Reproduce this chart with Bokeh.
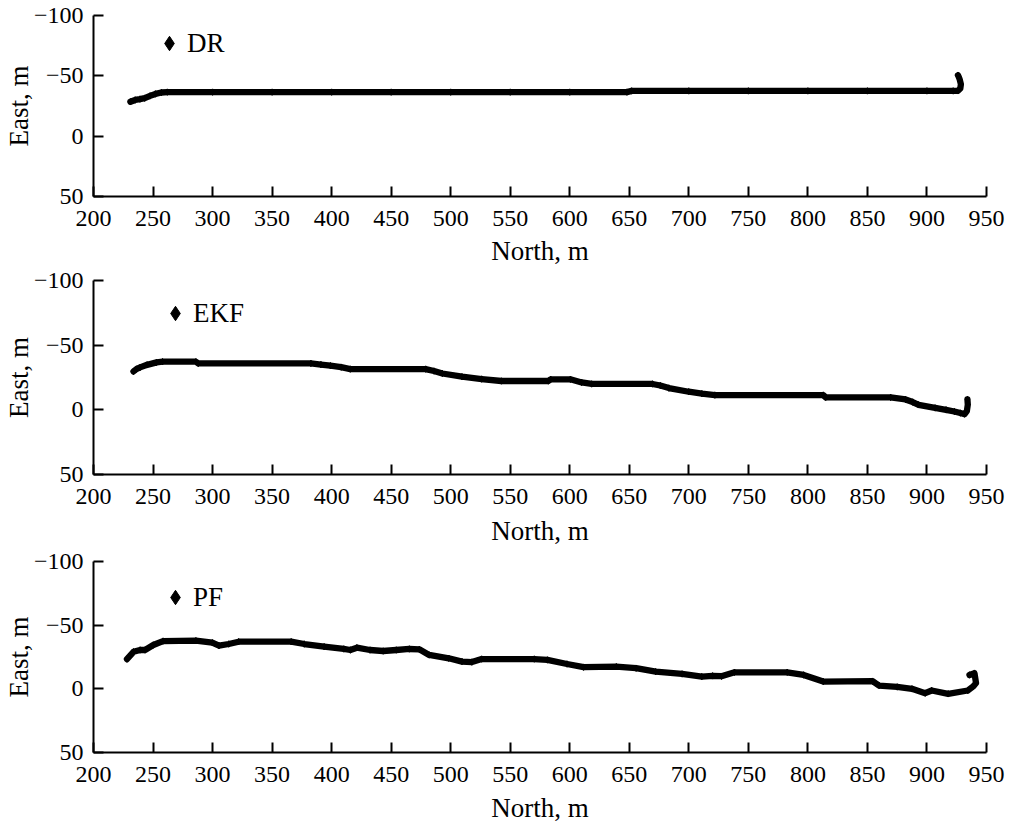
from bokeh.plotting import figure
from bokeh.layouts import column
from bokeh.models import (Range1d, FixedTicker, Legend, LegendItem, ColumnDataSource)
from bokeh.embed import file_html
from bokeh.resources import INLINE

# ---- data ----
dr_north = [231, 235, 239, 243, 247.5, 252, 257, 262, 300, 350, 400, 450, 500, 550,
            600, 648, 652, 700, 750, 800, 850, 900, 922, 926, 928, 928.5, 927.5, 926.5, 926]
dr_east = [-28.5, -30, -30.7, -31.5, -33.4, -35, -36.2, -36.5, -36.5, -36.5, -36.5, -36.5,
           -36.5, -36.5, -36.5, -36.5, -37.5, -37.5, -37.5, -37.5, -37.5, -37.5, -37.5,
           -37.6, -39.5, -43, -47, -49.5, -50.5]

ekf_north = [233.6, 236, 239.1, 245, 253, 258, 286, 288, 382.6, 391, 399, 408, 415.7, 479,
             486, 493, 509.5, 526, 542.6, 582, 584, 600.5, 610, 618.4, 669.5, 676, 683.3,
             699.9, 711, 721.9, 812.9, 815, 869.5, 882, 888, 893, 906.8, 916, 923, 928,
             931.6, 933.5, 934.3, 934]
ekf_east = [-29.7, -31.5, -32.8, -34.8, -36.7, -37.2, -37.2, -35.9, -35.9, -35, -34.1, -33,
            -31.5, -31.5, -30, -28.1, -25.6, -23.8, -22.3, -22.3, -23.6, -23.6, -21.2, -20,
            -20, -18.8, -16.8, -14, -12.5, -11.4, -11.4, -9.6, -9.6, -8, -6, -3.9, -1.5, 0,
            1.3, 2.5, 3.3, 1, -4, -8]

pf_north = [228.1, 233.6, 239.1, 243.3, 250.2, 258.4, 286, 299.8, 305.4, 313.6, 321.9, 366,
            377, 393.7, 410.2, 415.7, 421.2, 432.2, 443.3, 454.3, 465.3, 473.6, 481.9, 498.4,
            509.5, 517.8, 526, 570.2, 581.2, 597.7, 611.6, 639.1, 655.7, 672.2, 694.3, 710.9,
            720, 727.4, 738.4, 782.6, 796.4, 812.9, 854.3, 859.8, 875, 887.4, 898.5, 904,
            917.8, 934.3, 939, 941.2, 939.9, 935.7]
pf_east = [-23.4, -29.1, -30.5, -30.5, -34.4, -37.5, -37.8, -36.2, -33.9, -35.2, -37, -37,
           -35.2, -33.1, -31.3, -30.5, -32.3, -30.5, -29.7, -30.5, -31.3, -31, -26.6, -24,
           -21.4, -21, -23.4, -23.4, -22.7, -19.5, -17, -17.4, -16.2, -13.5, -11.7, -9.6,
           -10.2, -9.9, -13, -13, -10.9, -5.7, -6, -2.6, -1.5, 0, 3.4, 1.3, 3.9, 1.3, -2,
           -4.5, -12.3, -10.9]

series_labels = ["DR", "EKF", "PF"]
x_ticks = list(range(200, 951, 50))
y_ticks = [-100, -50, 0, 50]
y_tick_text = {-100: "\u2212100", -50: "\u221250", 0: "0", 50: "50"}

FONT = "Liberation Serif"
TICK_FS = "24px"
LAB_FS = "27px"


def make_panel(north, east, label, width, height, mb_top, mb_bottom, mb_right,
               legend_loc, xtick_standoff, xlab_standoff):
    p = figure(width=width, height=height, output_backend="svg", toolbar_location=None,
               x_range=Range1d(200, 950), y_range=Range1d(50, -100),
               min_border_left=93, min_border_right=mb_right,
               min_border_top=mb_top, min_border_bottom=mb_bottom)
    p.outline_line_color = None
    p.xgrid.visible = False
    p.ygrid.visible = False
    p.background_fill_color = "white"

    src = ColumnDataSource(data=dict(x=north, y=east))
    p.line("x", "y", source=src, line_color="black", line_width=6.3,
           line_join="round", line_cap="round")
    pts = p.scatter("x", "y", source=src, marker="diamond", size=6.5,
                    fill_color="black", line_color="black")

    legend = Legend(items=[LegendItem(label=label, renderers=[pts])],
                    location=legend_loc, padding=0, margin=0, spacing=0,
                    glyph_width=36, glyph_height=36, label_height=36, label_standoff=0,
                    border_line_alpha=0, background_fill_alpha=0,
                    label_text_font=FONT, label_text_font_size=LAB_FS,
                    label_text_color="black")
    p.add_layout(legend, "center")

    for ax in (p.xaxis[0], p.yaxis[0]):
        ax.axis_line_width = 2
        ax.axis_line_color = "black"
        ax.major_tick_line_width = 2
        ax.major_tick_line_color = "black"
        ax.major_tick_in = 10
        ax.major_tick_out = 0
        ax.minor_tick_line_color = None
        ax.major_label_text_font = FONT
        ax.major_label_text_font_size = TICK_FS
        ax.major_label_text_color = "black"
        ax.axis_label_text_font = FONT
        ax.axis_label_text_font_size = LAB_FS
        ax.axis_label_text_font_style = "normal"
        ax.axis_label_text_color = "black"

    p.xaxis.ticker = FixedTicker(ticks=x_ticks)
    p.yaxis.ticker = FixedTicker(ticks=y_ticks)
    p.yaxis.major_label_overrides = y_tick_text
    p.xaxis.axis_label = "North, m"
    p.yaxis.axis_label = "East, m"
    p.xaxis.major_label_standoff = xtick_standoff
    p.yaxis.major_label_standoff = 10
    p.xaxis.axis_label_standoff = xlab_standoff
    p.yaxis.axis_label_standoff = -3
    return p


p1 = make_panel(dr_north, dr_east, series_labels[0], 1020, 268, 15, 69, 34,
                (58, 135), 14, 7)
p2 = make_panel(ekf_north, ekf_east, series_labels[1], 1020, 280, 12, 74, 21,
                (64, 143), 14, 9)
p3 = make_panel(pf_north, pf_east, series_labels[2], 1020, 277, 13, 72, 21,
                (64, 137), 14, 8)

layout = column(p1, p2, p3, spacing=0)
open("out.html", "w").write(file_html(layout, INLINE))
